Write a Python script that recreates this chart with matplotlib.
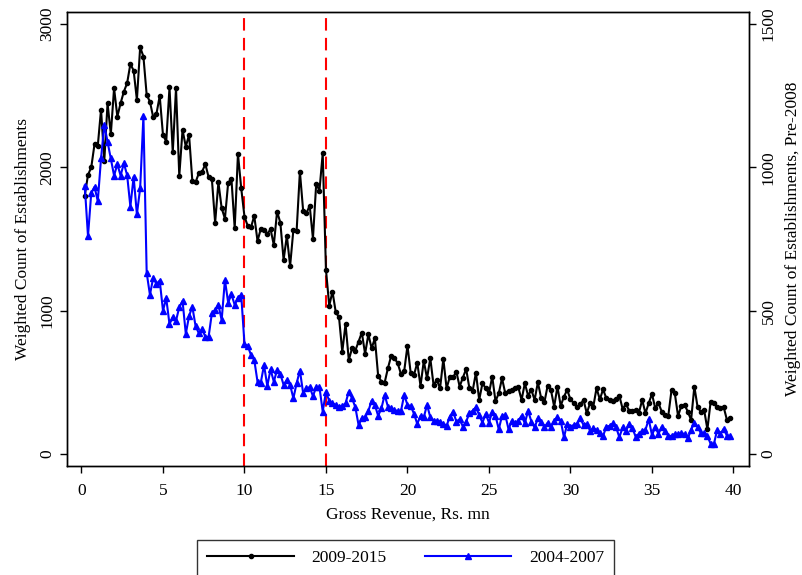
"""Establishment counts by gross revenue, two periods"""
import numpy as np
import matplotlib
matplotlib.use("Agg")
import matplotlib.pyplot as plt

plt.rcParams['font.family'] = ['Liberation Serif', 'DejaVu Serif']

# revenue bins, Rs. mn (0.2 steps)
revenue = np.round(np.arange(1, 200) * 0.2, 1)

# 2009-2015, left axis
count_0915 = [
    1802, 1947, 2000, 2161, 2149, 2403, 2047, 2447, 2231, 2552,
    2354, 2447, 2528, 2587, 2721, 2675, 2470, 2838, 2773, 2505,
    2458, 2350, 2373, 2498, 2226, 2180, 2557, 2105, 2552, 1940,
    2261, 2145, 2226, 1907, 1896, 1959, 1970, 2022, 1931, 1917,
    1614, 1896, 1715, 1642, 1893, 1919, 1575, 2094, 1854, 1656,
    1591, 1582, 1661, 1486, 1570, 1563, 1535, 1568, 1458, 1691,
    1614, 1354, 1523, 1312, 1563, 1558, 1970, 1696, 1680, 1733,
    1503, 1884, 1838, 2098, 1284, 1035, 1133, 989, 954, 712,
    907, 656, 737, 721, 784, 847, 698, 835, 737, 807,
    546, 505, 498, 598, 684, 668, 633, 558, 579, 756,
    563, 551, 637, 475, 649, 528, 668, 481, 516, 458,
    663, 458, 539, 535, 574, 470, 533, 593, 458,
    442, 567, 377, 493, 458, 423, 540, 368, 423, 528,
    423, 442, 447, 458, 465, 377, 493, 407, 447, 377,
    500, 390, 360, 477, 447, 330, 470, 335, 400, 447,
    380, 355, 330, 345, 377, 284, 354, 330, 460, 380,
    451, 388, 377, 372, 381, 405, 314, 349, 302, 300,
    307, 288, 377, 284, 354, 419, 319, 354, 295, 272,
    265, 447, 423, 265, 335, 342, 295, 237, 470, 326,
    295, 307, 172, 365, 354, 326, 319, 326, 237, 249,
]

# 2004-2007, right axis
count_0407 = [
    936, 760, 911, 932, 882, 1031, 1148, 1089, 1031, 971,
    1011, 971, 1014, 973, 863, 967, 836, 927, 1179,
    632, 555, 615, 593, 605, 500, 543, 453, 477, 465,
    512, 534, 419, 481, 514, 446, 421, 435, 409, 409,
    491, 502, 520, 467, 607, 528, 557, 520, 545, 555,
    384, 377,
    345, 328, 252, 249, 310, 237, 295, 252, 293, 279,
    241, 258, 241, 194, 247, 291, 212, 229, 233, 202,
    233, 233, 148, 217, 185, 177, 171, 165,
    167, 177, 217, 194, 163, 101, 124, 128, 150, 186,
    171, 133, 159, 206, 165, 159, 153, 150, 150, 206,
    171, 167, 140, 105, 133, 128, 171, 128, 116, 116,
    113, 105, 99, 130, 148, 113, 121, 95, 113, 142,
    151, 163, 136, 109, 140, 109, 148, 133, 86, 133,
    136, 86, 116, 107, 116, 133, 107, 151, 113, 93,
    124, 113, 93, 109, 95, 116, 128, 116, 58, 105,
    95, 101, 105, 124, 101, 105, 81, 90, 84, 74,
    63, 95, 98, 107, 93, 58, 93, 81, 105, 90,
    60, 70, 81, 84, 121, 66, 93, 70, 95, 81,
    63, 63, 70, 70, 72, 70, 55, 84, 109, 95,
    72, 74, 63, 35, 35, 84, 70, 88, 63, 63,
]

cutoffs = [10, 15]

fig = plt.figure(figsize=(8.03, 5.75), dpi=100)
ax = fig.add_axes([0.0834, 0.1896, 0.8493, 0.7896])
ax2 = ax.twinx()

black_line, = ax.plot(revenue, count_0915, color='black', lw=1.5,
                      marker='o', ms=3, label='2009-2015', zorder=3)
blue_line, = ax2.plot(revenue, count_0407, color='blue', lw=1.5,
                      marker='^', ms=4, label='2004-2007', zorder=3)
for c in cutoffs:
    ax.axvline(c, color='red', lw=1.5, ls=(0, (6, 3.5)), zorder=2)

ax.set_xlim(-0.89, 40.95)
ax.set_ylim(-84, 3084)
ax2.set_ylim(-42, 1542)
ax.set_xticks(range(0, 41, 5))
ax.set_yticks([0, 1000, 2000, 3000])
ax2.set_yticks([0, 500, 1000, 1500])

for a in (ax, ax2):
    a.tick_params(labelsize=12.5, length=5, width=1)
    for s in a.spines.values():
        s.set_linewidth(1)
ax.tick_params(axis='x', pad=7)
for lab in ax.get_yticklabels() + ax2.get_yticklabels():
    lab.set_rotation(90)
    lab.set_va('center')

ax.set_xlabel('Gross Revenue, Rs. mn', fontsize=12.5, labelpad=6)
ax.set_ylabel('Weighted Count of Establishments', fontsize=12.5, labelpad=6)
ax2.set_ylabel('Weighted Count of Establishments, Pre-2008', fontsize=12.5,
               rotation=90, labelpad=6)

leg = fig.legend(handles=[black_line, blue_line], loc='lower center',
                 bbox_to_anchor=(0.505, -0.018), ncol=2, fontsize=12.5,
                 handlelength=5, columnspacing=2.2, handletextpad=1.0,
                 frameon=True, fancybox=False, borderpad=0.6)
leg.get_frame().set_edgecolor('black')
leg.get_frame().set_linewidth(1)

fig.savefig('out.png', dpi=100)
